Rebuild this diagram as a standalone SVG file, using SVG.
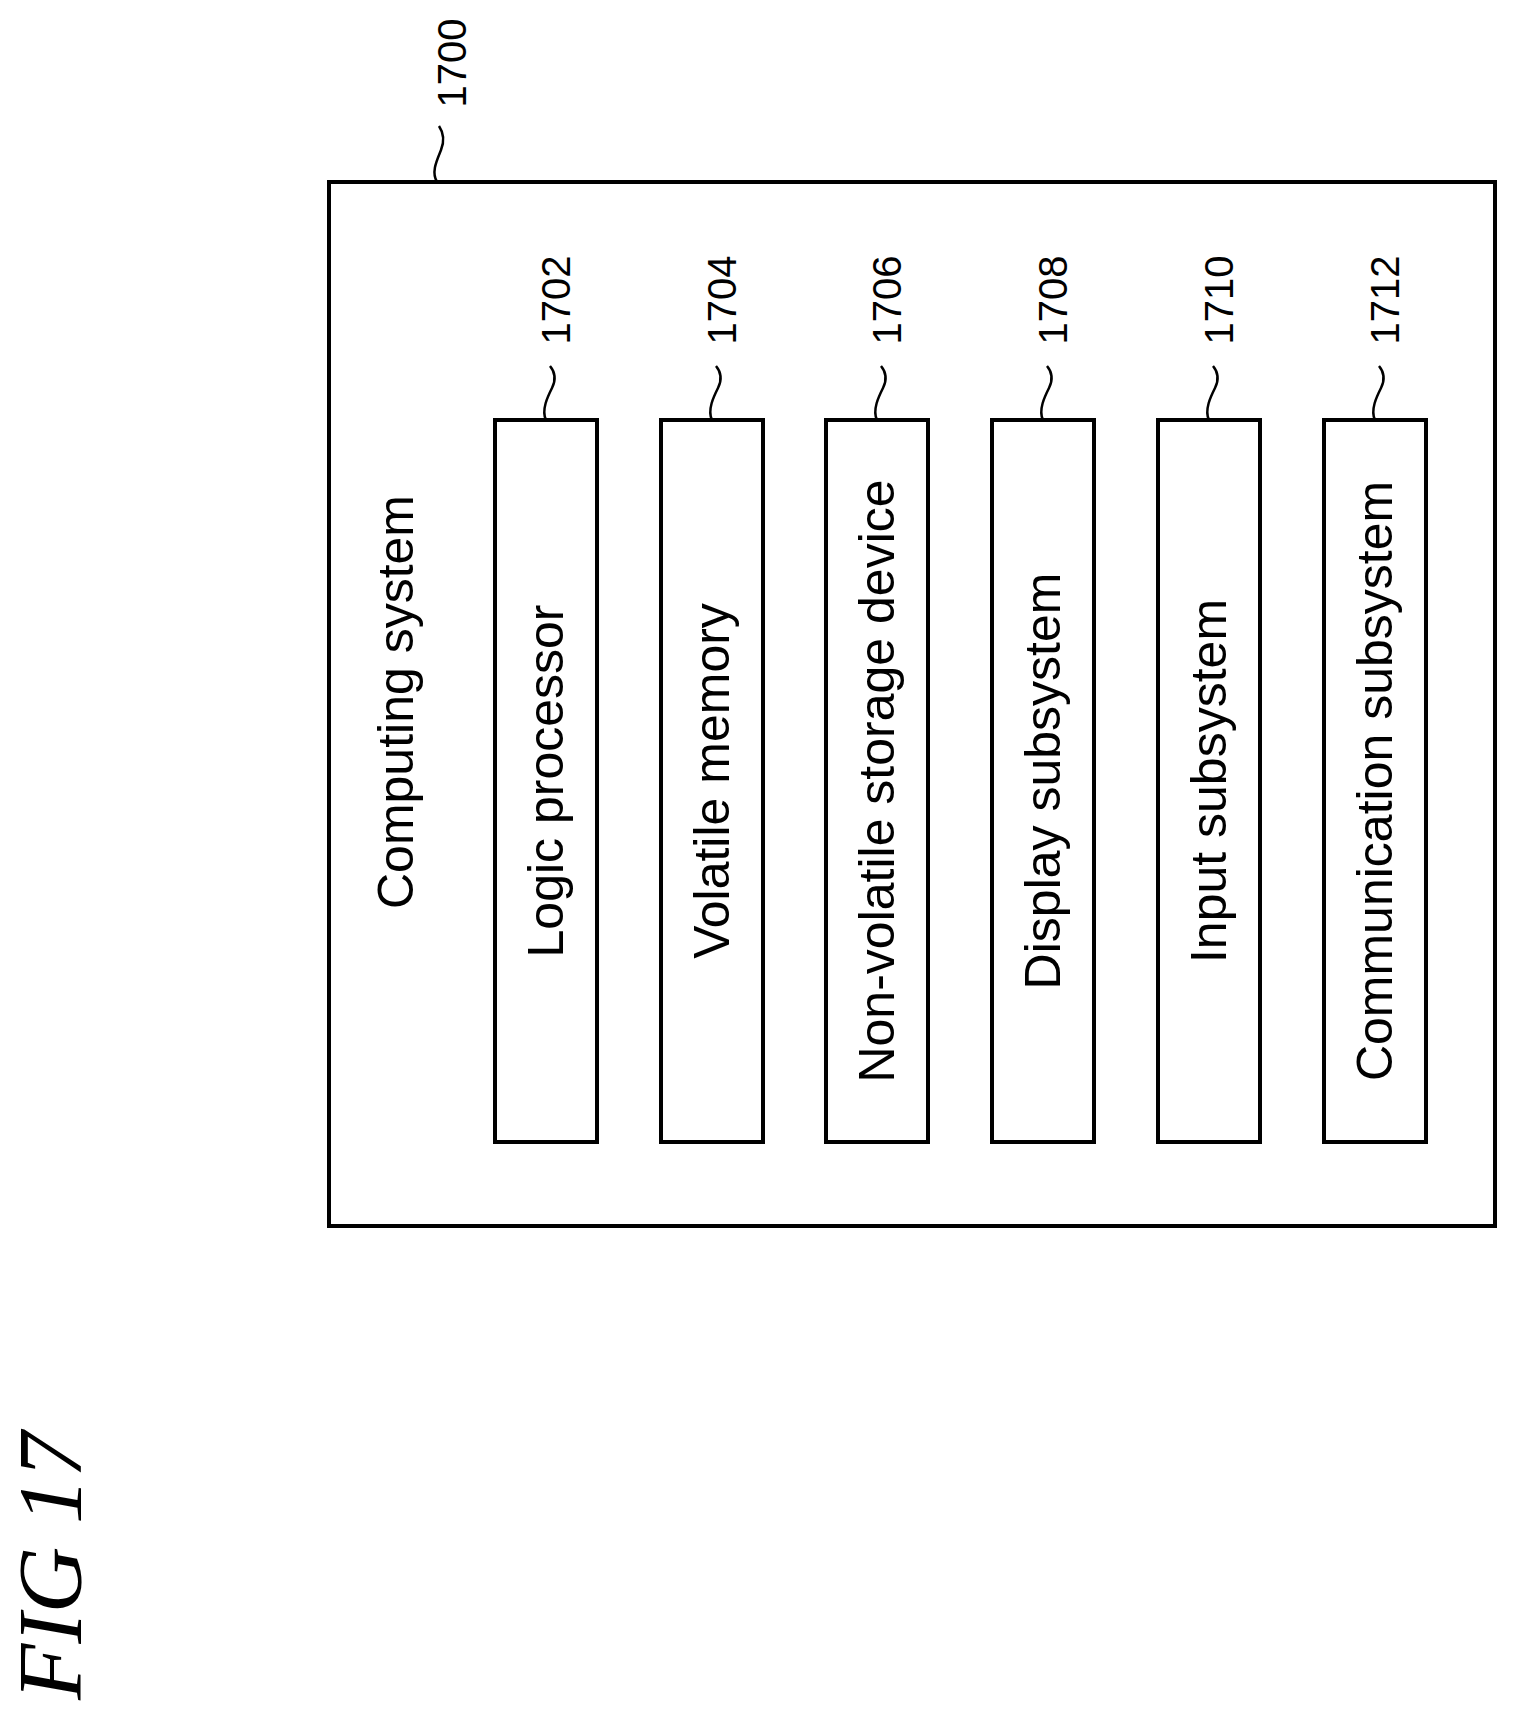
<svg xmlns="http://www.w3.org/2000/svg" width="1518" height="1711" viewBox="0 0 1518 1711">
<style>
.box{fill:#fff;stroke:#000;stroke-width:4}
.lbl{font-family:"Liberation Sans",Arial,sans-serif;font-size:50px;text-anchor:middle;dominant-baseline:central}
.num{font-family:"Liberation Sans",Arial,sans-serif;font-size:40px;text-anchor:middle;dominant-baseline:central}
.lead{fill:none;stroke:#000;stroke-width:2.5}
</style>
<rect width="1518" height="1711" fill="#fff"/>
<g id="n1700">
<rect class="box" x="329" y="182" width="1166" height="1044"/>
<text class="lbl" transform="translate(396,702) rotate(-90)">Computing system</text>
<text class="num" transform="translate(452,63) rotate(-90)">1700</text>
</g>
<g id="n1702"><rect class="box" x="495" y="420" width="102" height="722"/><text class="lbl" transform="translate(546,781) rotate(-90)">Logic processor</text><text class="num" transform="translate(556,300) rotate(-90)">1702</text></g>
<g id="n1704"><rect class="box" x="661" y="420" width="102" height="722"/><text class="lbl" transform="translate(712,781) rotate(-90)">Volatile memory</text><text class="num" transform="translate(722,300) rotate(-90)">1704</text></g>
<g id="n1706"><rect class="box" x="826" y="420" width="102" height="722"/><text class="lbl" transform="translate(877,781) rotate(-90)">Non-volatile storage device</text><text class="num" transform="translate(887,300) rotate(-90)">1706</text></g>
<g id="n1708"><rect class="box" x="992" y="420" width="102" height="722"/><text class="lbl" transform="translate(1043,781) rotate(-90)">Display subsystem</text><text class="num" transform="translate(1053,300) rotate(-90)">1708</text></g>
<g id="n1710"><rect class="box" x="1158" y="420" width="102" height="722"/><text class="lbl" transform="translate(1209,781) rotate(-90)">Input subsystem</text><text class="num" transform="translate(1219,300) rotate(-90)">1710</text></g>
<g id="n1712"><rect class="box" x="1324" y="420" width="102" height="722"/><text class="lbl" transform="translate(1375,781) rotate(-90)">Communication subsystem</text><text class="num" transform="translate(1385,300) rotate(-90)">1712</text></g>
<g id="connectors">
<path class="lead" d="M437,182 c-6,-10 0,-22 4,-32 s2,-18 -2,-24"/>
<path class="lead" d="M546,420 c-5,-10 2,-24 6,-32 s3,-16 -2,-22"/>
<path class="lead" d="M712,420 c-5,-10 2,-24 6,-32 s3,-16 -2,-22"/>
<path class="lead" d="M877,420 c-5,-10 2,-24 6,-32 s3,-16 -2,-22"/>
<path class="lead" d="M1043,420 c-5,-10 2,-24 6,-32 s3,-16 -2,-22"/>
<path class="lead" d="M1209,420 c-5,-10 2,-24 6,-32 s3,-16 -2,-22"/>
<path class="lead" d="M1375,420 c-5,-10 2,-24 6,-32 s3,-16 -2,-22"/>
</g>
<text transform="translate(50,1566) rotate(-90)" font-family="Liberation Serif,'Times New Roman',serif" font-style="italic" font-size="92" text-anchor="middle" dominant-baseline="central" textLength="268">FIG 17</text>
</svg>
